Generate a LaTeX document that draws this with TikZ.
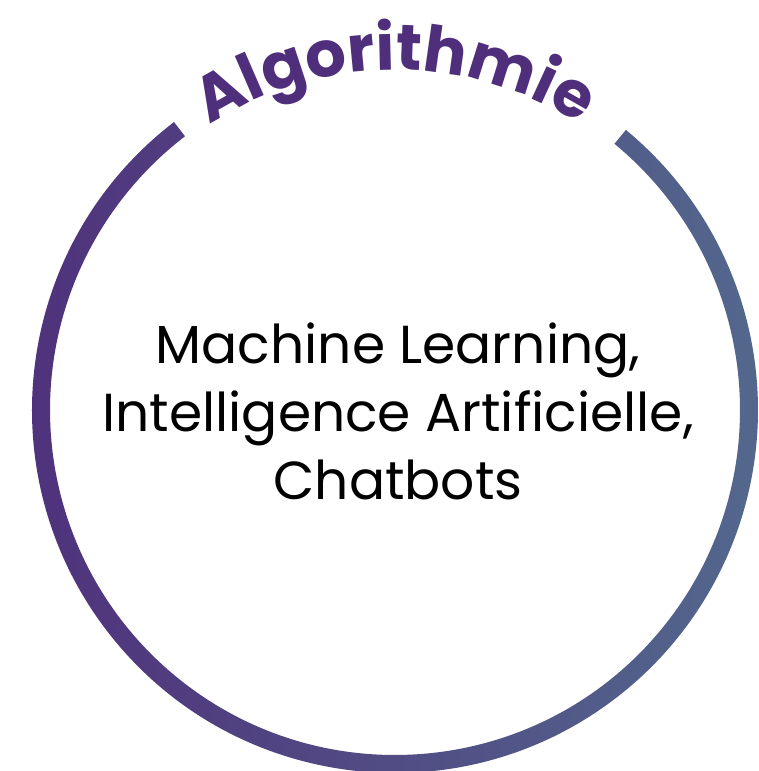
\documentclass[tikz,border=0pt]{standalone}
\usepackage{fontspec}
\setmainfont{Poppins}
\usetikzlibrary{decorations.text}

\definecolor{algoPurple}{HTML}{4F2F7B}
\definecolor{algoSlate}{HTML}{53698D}

\tikzset{
    ring/.style={left color=algoPurple, right color=algoSlate, draw=none},
    topic/.style={align=center, font=\fontsize{53.5}{68}\selectfont, text=black},
}

\begin{document}
\begin{tikzpicture}[x=1pt, y=1pt]
    \useasboundingbox (-395,-361) rectangle (363,410);
    \coordinate (c) at (0,0);
    % ring with a gap at the top
    \shade [ring] (127.5:363) arc [start angle=127.5, end angle=410.5, radius=363]
        -- (410.5:345) arc [start angle=410.5, end angle=127.5, radius=345] -- cycle;
    % title along the gap
    \path [decorate, decoration={text along path, text align=center,
        text={|\fontsize{64}{64}\selectfont\bfseries\color{algoPurple}|Algorithmie}}]
        (125:340) arc [start angle=125, end angle=55, radius=340];
    \node (body) [topic] at (3,-1) {Machine Learning,\\Intelligence Artificielle,\\Chatbots};
\end{tikzpicture}
\end{document}
